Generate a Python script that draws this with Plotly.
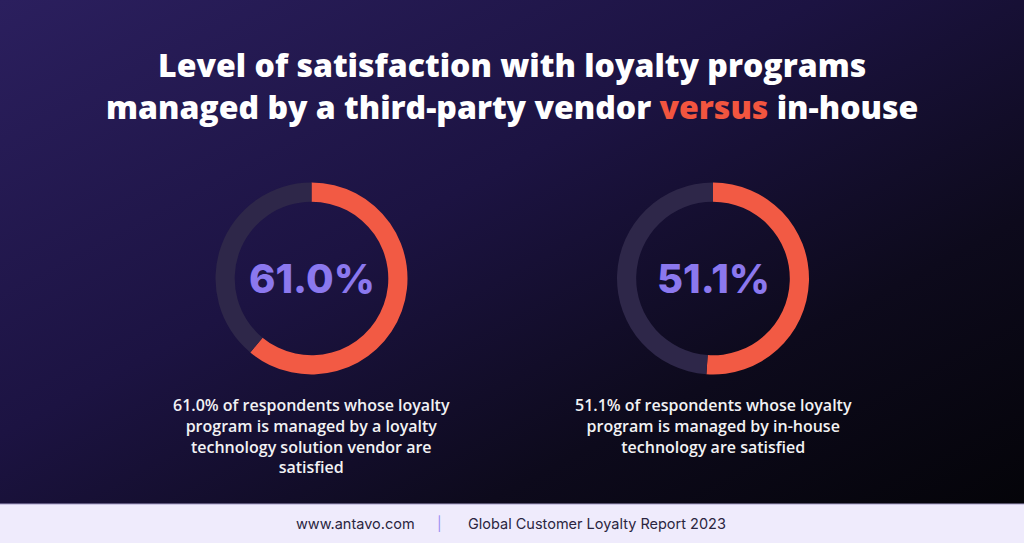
import base64
import plotly.graph_objects as go

# ---- data ----
segments = ["Satisfied", "Other"]
satisfied_pct = [61.0, 51.1]
groups = ["Loyalty technology solution vendor", "In-house technology"]
captions = [
    "61.0% of respondents whose loyalty<br>program is managed by a loyalty<br>technology solution vendor are<br>satisfied",
    "51.1% of respondents whose loyalty<br>program is managed by in-house<br>technology are satisfied",
]
title_line1 = "Level of satisfaction with loyalty programs"
title_line2_a = "managed by a third-party vendor "
title_highlight = "versus"
title_line2_b = " in-house"
footer_left = "www.antavo.com"
footer_right = "Global Customer Loyalty Report 2023"

W, H = 1024, 543
ORANGE = "#f25a44"
TRACK = "#2e2749"
PURPLE = "#8b78ee"

# pie centres / radius in pixels (layout)
centers = [(311.5, 278.5), (713.0, 278.5)]
R = 96.0

fig = go.Figure()
for i, (cx, cy) in enumerate(centers):
    v = satisfied_pct[i]
    fig.add_trace(go.Pie(
        labels=segments,
        values=[v, 100 - v],
        hole=0.80,
        sort=False,
        direction="clockwise",
        rotation=0,
        marker=dict(colors=[ORANGE, TRACK], line=dict(width=0)),
        textinfo="none",
        hoverinfo="label+percent",
        showlegend=False,
        name=groups[i],
        domain=dict(x=[(cx - R) / W, (cx + R) / W],
                    y=[1 - (cy + R) / H, 1 - (cy - R) / H]),
    ))

annotations = []
for i, (cx, cy) in enumerate(centers):
    annotations.append(dict(
        x=cx / W, y=1 - cy / H, xref="paper", yref="paper",
        text=f"{satisfied_pct[i]:.1f}%", showarrow=False,
        xanchor="center", yanchor="middle",
        font=dict(family="Inter, Open Sans, sans-serif", size=40, color=PURPLE, weight=800),
    ))
    annotations.append(dict(
        x=cx / W, y=1 - 392 / H, xref="paper", yref="paper",
        text=captions[i], showarrow=False, align="center",
        xanchor="center", yanchor="top",
        font=dict(family="Open Sans, sans-serif", size=16, color="#f2f2f4", weight=600),
    ))

annotations.append(dict(
    x=0.5, y=1 - 41 / H, xref="paper", yref="paper", showarrow=False,
    xanchor="center", yanchor="top", align="center",
    text=(f"{title_line1}<br>{title_line2_a}<span style='color:#f2553f'>{title_highlight}</span>"
          f"{title_line2_b}"),
    font=dict(family="Open Sans, sans-serif", size=32, color="white", weight=800),
))

fy = 1 - 523 / H
annotations.append(dict(x=355 / W, y=fy, xref="paper", yref="paper", showarrow=False,
                        xanchor="center", yanchor="middle", text=footer_left,
                        font=dict(family="Inter, sans-serif", size=14.5, color="#2a2540")))
annotations.append(dict(x=439 / W, y=fy, xref="paper", yref="paper", showarrow=False,
                        xanchor="center", yanchor="middle", text="|",
                        font=dict(family="Inter, sans-serif", size=14, color="#9c8cf2")))
annotations.append(dict(x=597 / W, y=fy, xref="paper", yref="paper", showarrow=False,
                        xanchor="center", yanchor="middle", text=footer_right,
                        font=dict(family="Inter, sans-serif", size=14.5, color="#2a2540")))

svg = (
    "<svg xmlns='http://www.w3.org/2000/svg' width='1024' height='543' preserveAspectRatio='none'>"
    "<defs><linearGradient id='g' x1='0' y1='0' x2='1' y2='1'>"
    "<stop offset='0' stop-color='#2b1f5e'/>"
    "<stop offset='0.4' stop-color='#1c1342'/>"
    "<stop offset='0.7' stop-color='#0d0a1c'/>"
    "<stop offset='1' stop-color='#030306'/>"
    "</linearGradient></defs>"
    "<rect width='1024' height='543' fill='url(#g)'/>"
    "</svg>"
)
src = "data:image/svg+xml;base64," + base64.b64encode(svg.encode()).decode()

fig.update_layout(
    width=W, height=H,
    margin=dict(l=0, r=0, t=0, b=0),
    paper_bgcolor="#120c26",
    plot_bgcolor="rgba(0,0,0,0)",
    images=[dict(source=src, xref="paper", yref="paper", x=0, y=1, sizex=1, sizey=1,
                 xanchor="left", yanchor="top", sizing="stretch", layer="below")],
    shapes=[
        dict(type="rect", xref="paper", yref="paper", x0=0, x1=1, y0=0, y1=39 / H,
             fillcolor="#efebfc", line=dict(width=0), layer="above"),
        dict(type="line", xref="paper", yref="paper", x0=0, x1=1, y0=39 / H, y1=39 / H,
             line=dict(color="#a79fc8", width=1)),
    ],
    annotations=annotations,
)

fig.write_html(
    "out.html",
    config={"displayModeBar": False},
    post_script="document.body.style.margin='0';document.body.style.padding='0';"
                "document.body.style.overflow='hidden';",
)
